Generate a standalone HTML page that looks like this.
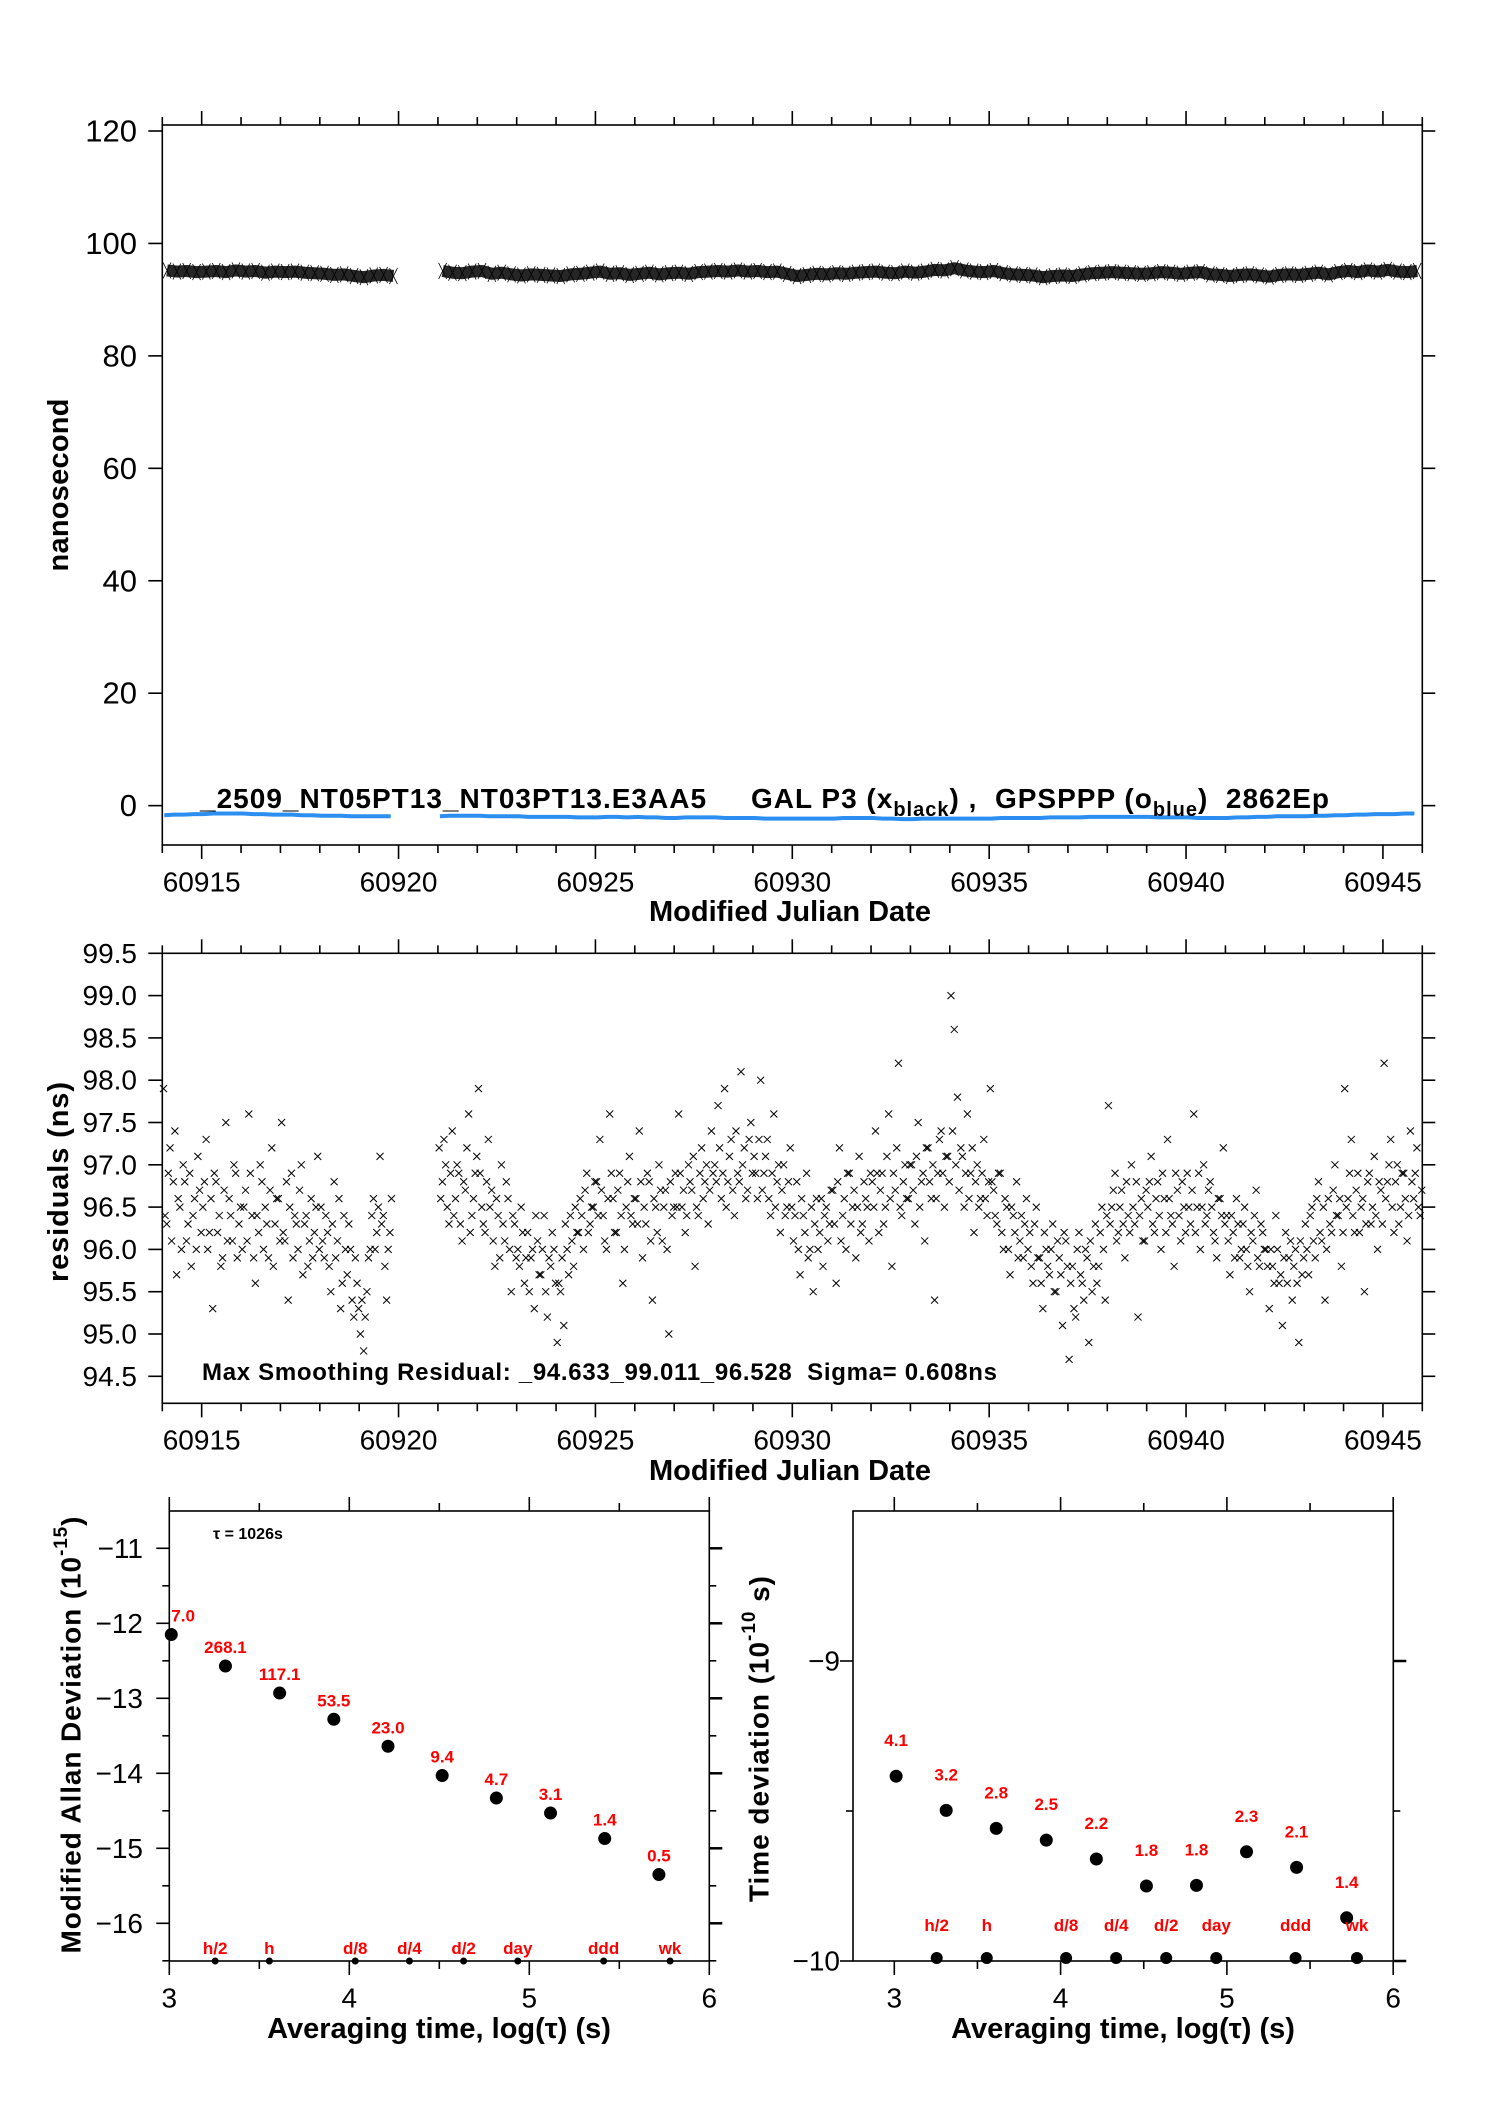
<!DOCTYPE html>
<html><head><meta charset="utf-8"><style>
html,body{margin:0;padding:0;background:#fff;}
svg{display:block;font-family:"Liberation Sans",Arial,sans-serif;}
.pre{white-space:pre;}
</style></head><body>
<svg id="chart" width="1488" height="2105" viewBox="0 0 1488 2105" xmlns="http://www.w3.org/2000/svg">
<rect x="0" y="0" width="1488" height="2105" fill="#fff"/>
<g id="g1"></g>
<g id="g2"></g>
<g id="g3"></g>
<g id="g4"></g>
<text x="59" y="485" transform="rotate(-90 59 485)" text-anchor="middle" dominant-baseline="central" font-size="29" font-weight="bold" textLength="173">nanosecond</text>
<text x="790" y="912" text-anchor="middle" dominant-baseline="central" font-size="29" font-weight="bold">Modified Julian Date</text>
<text x="59" y="1182" transform="rotate(-90 59 1182)" text-anchor="middle" dominant-baseline="central" font-size="29" font-weight="bold" textLength="200">residuals (ns)</text>
<text x="790" y="1471" text-anchor="middle" dominant-baseline="central" font-size="29" font-weight="bold">Modified Julian Date</text>
<text class="pre" x="202" y="1380" font-size="24" font-weight="bold" textLength="795">Max Smoothing Residual: _94.633_99.011_96.528  Sigma= 0.608ns</text>
<text class="pre" x="200" y="808" font-size="28" font-weight="bold" textLength="1129">_2509_NT05PT13_NT03PT13.E3AA5     GAL P3 (x<tspan font-size="20" dy="8">black</tspan><tspan dy="-8">) ,  GPSPPP (o</tspan><tspan font-size="20" dy="8">blue</tspan><tspan dy="-8">)  2862Ep</tspan></text>
<text x="71" y="1735" transform="rotate(-90 71 1735)" text-anchor="middle" dominant-baseline="central" font-size="28" font-weight="bold" textLength="437">Modified Allan Deviation (10<tspan font-size="19" dy="-10">-15</tspan><tspan dy="10">)</tspan></text>
<text x="759" y="1739" transform="rotate(-90 759 1739)" text-anchor="middle" dominant-baseline="central" font-size="28" font-weight="bold" textLength="326">Time deviation (10<tspan font-size="19" dy="-10">-10</tspan><tspan dy="10"> s)</tspan></text>
<text x="439" y="2029" text-anchor="middle" dominant-baseline="central" font-size="29" font-weight="bold">Averaging time, log(τ) (s)</text>
<text x="1123" y="2029" text-anchor="middle" dominant-baseline="central" font-size="29" font-weight="bold">Averaging time, log(τ) (s)</text>
<text x="213" y="1539" font-size="16" font-weight="bold">τ = 1026s</text>
</svg>
<script>
// ---- data ----
const dayStart = 60914;
const residPerDay = 12;
const resid = [
97.9,96.3,97.2,96.8,95.7,96.5,97.0,96.1,96.9,96.4,96.0,96.7,
96.5,97.3,96.2,95.3,96.8,96.4,95.9,97.5,96.6,96.1,96.9,96.3,
96.0,96.7,97.6,96.4,95.6,96.2,96.8,96.5,95.9,97.2,96.3,96.6,
97.5,96.1,95.4,96.9,96.4,96.0,97.0,96.3,95.8,96.6,96.2,97.1,
96.5,95.9,96.2,95.5,96.8,96.1,95.3,96.4,95.7,96.0,95.2,95.6,
95.0,94.8,95.5,96.0,96.6,96.2,97.1,96.4,95.4,96.2,null,null,
null,null,null,null,null,null,null,null,null,null,null,null,
97.2,96.8,97.0,96.3,97.4,96.6,96.9,96.1,96.7,97.6,96.4,96.9,
97.9,96.5,96.2,97.3,96.7,95.8,96.4,97.0,96.1,96.6,95.5,96.3,
96.0,96.5,95.6,96.2,95.9,95.3,96.1,95.7,96.4,95.2,95.8,96.0,
94.9,95.5,95.1,96.0,96.4,95.8,96.2,96.6,96.0,96.9,96.3,96.5,
96.8,97.3,96.4,96.0,97.6,96.6,96.2,96.9,95.6,96.5,97.1,96.3,
96.6,97.4,95.9,96.3,96.8,95.4,96.5,97.0,96.1,96.7,95.0,96.4,
96.9,97.6,96.5,96.2,97.0,96.7,95.8,96.4,97.2,96.8,96.3,97.4,
97.0,97.7,96.6,97.9,96.8,97.3,96.4,96.9,98.1,97.2,96.7,97.5,
97.1,96.6,98.0,96.9,97.3,96.4,97.6,96.8,96.2,97.0,96.5,97.2,
96.1,96.8,95.7,96.4,96.9,96.0,95.5,96.6,96.2,95.8,96.5,96.3,
96.7,95.6,97.2,96.4,96.0,96.9,96.5,95.9,97.1,96.3,96.6,96.1,
96.8,97.4,96.2,96.9,96.5,97.6,95.8,96.7,98.2,96.4,97.0,96.6,
97.0,96.3,97.5,96.8,96.1,97.2,96.6,95.4,96.9,97.4,96.5,97.1,
99.0,98.6,97.8,97.2,96.5,97.6,96.9,96.2,97.0,96.6,97.3,96.4,
97.9,96.7,96.3,96.9,96.0,96.5,95.7,96.4,96.8,96.1,95.9,96.6,
96.2,95.6,96.5,95.9,95.3,96.0,95.7,96.3,95.5,95.9,95.1,96.1,
94.7,95.8,95.2,96.2,95.6,96.0,94.9,95.5,96.3,95.8,96.5,95.4,
97.7,96.5,96.9,96.2,96.7,95.9,96.4,97.0,96.3,95.2,96.6,96.1,
96.5,97.1,96.2,96.8,96.0,96.6,97.3,96.4,95.8,96.7,96.1,96.5,
96.9,96.3,97.6,96.5,96.0,97.0,96.4,96.8,96.2,95.9,96.6,97.2,
96.4,95.7,96.2,96.6,95.9,96.3,96.0,95.5,96.1,96.7,95.8,96.2,
96.0,95.3,95.8,96.4,95.6,95.1,96.2,95.9,95.4,96.0,94.9,95.7,
96.3,95.7,96.5,95.9,96.8,96.1,95.4,96.6,96.2,97.0,96.4,95.8,
97.9,96.6,97.3,96.2,96.9,96.5,95.5,96.8,96.3,97.1,96.0,96.7,
98.2,96.8,97.3,96.2,97.0,96.5,96.9,96.1,97.4,96.6,97.2,96.4
];
const resid2 = [
96.4,96.9,96.1,97.4,96.6,96.0,96.8,96.3,95.8,96.6,97.1,96.2,
96.8,96.0,96.6,96.9,96.2,95.8,96.7,96.1,96.4,97.0,95.9,96.5,
96.5,96.1,96.9,95.9,96.4,97.0,96.0,96.3,96.7,95.8,96.6,96.1,
96.2,96.8,96.5,95.9,96.3,96.7,95.7,96.4,96.1,95.9,96.5,96.0,
96.1,96.4,95.8,96.3,95.9,96.6,95.6,96.0,96.3,95.4,95.9,95.3,
95.4,95.2,95.9,96.4,96.0,96.5,96.3,95.8,96.0,96.6,null,null,
null,null,null,null,null,null,null,null,null,null,null,null,
96.6,97.3,96.5,96.9,96.4,97.0,96.3,96.8,97.2,96.2,96.6,97.1,
96.9,96.3,96.8,96.5,96.1,96.6,95.9,96.3,96.8,96.0,96.4,95.9,
95.8,96.2,95.9,95.5,96.0,96.4,95.7,96.0,95.5,95.9,96.2,95.6,
95.6,95.9,96.3,95.7,96.1,96.5,96.2,96.4,96.7,96.2,96.5,96.8,
96.4,96.7,96.1,96.6,96.9,96.2,96.7,96.4,96.0,96.8,96.4,96.6,
96.3,96.8,96.5,96.9,96.1,96.6,96.2,96.7,96.5,96.0,96.8,96.5,
96.5,96.9,96.7,96.4,96.8,97.1,96.5,96.9,96.6,97.0,96.7,96.9,
96.8,97.2,96.9,96.5,97.1,96.7,97.4,96.8,97.0,96.6,97.3,96.9,
96.9,97.3,96.7,97.1,96.6,96.9,96.5,97.0,96.7,96.4,96.8,96.5,
96.4,96.0,96.6,96.2,95.9,96.5,96.3,96.0,96.6,96.4,96.1,96.7,
96.3,96.8,96.1,96.6,96.9,96.3,96.7,96.5,96.2,96.8,96.5,96.9,
96.5,96.9,96.7,96.3,97.1,96.6,96.9,97.2,96.5,96.8,96.6,97.0,
96.7,97.1,96.5,96.9,97.2,96.8,97.0,96.6,97.3,96.9,97.1,96.8,
97.4,97.0,96.7,97.1,96.9,96.6,97.2,96.8,96.5,96.9,96.6,96.8,
96.8,96.4,96.9,96.2,96.6,96.0,96.5,96.2,95.9,96.4,96.3,96.0,
95.8,96.3,95.9,95.6,96.2,95.8,96.0,95.5,96.1,95.7,96.2,95.8,
95.6,95.3,96.0,95.7,95.4,95.9,96.1,95.8,95.6,96.2,96.0,96.4,
96.3,96.7,96.1,96.5,96.3,96.8,96.2,96.5,96.8,96.4,96.1,96.7,
96.8,96.3,96.6,96.4,96.9,96.2,96.6,96.3,96.9,96.4,96.8,96.2,
96.5,96.7,96.2,96.9,96.5,96.3,96.7,96.5,96.1,96.6,96.4,96.3,
96.1,96.4,95.9,96.3,96.0,96.5,95.8,96.2,96.4,95.9,96.3,96.0,
95.8,96.0,95.6,96.0,95.7,95.9,95.6,96.1,95.8,95.6,96.1,95.9,
96.0,96.4,96.1,96.6,96.2,96.5,96.0,96.3,96.7,96.4,96.6,96.2,
96.5,96.9,96.4,96.7,96.2,96.6,96.3,96.9,96.5,96.4,96.8,96.3,
96.6,97.0,96.5,96.8,96.3,96.9,96.6,96.4,96.8,96.9,96.5,96.7
];
const blackPerDay = 4;
const blackVals = [
95.2,95.0,95.1,94.9, 95.0,95.1,94.9,95.2, 95.0,95.1,94.8,95.0, 94.9,95.0,94.8,94.7,
94.6,94.4,94.5,94.2, 94.0,94.3,94.4,94.2, null,null,null,null, 95.1,94.8,94.7,95.0,
95.1,94.6,94.8,94.5, 94.3,94.5,94.4,94.3, 94.2,94.5,94.6,94.8, 95.0,94.6,94.7,94.4,
94.6,94.8,94.5,94.7, 94.8,94.6,94.9,95.0, 95.1,95.0,95.2,95.0, 95.1,94.9,95.0,94.6,
94.2,94.4,94.6,94.5, 94.7,94.6,94.8,94.9, 95.0,94.8,94.7,95.0, 94.8,95.0,95.3,95.2,
95.6,95.2,95.0,94.9, 95.1,94.7,94.5,94.4, 94.3,94.0,94.2,94.3, 94.2,94.5,94.7,94.8,
94.9,94.8,94.7,94.6, 94.7,94.9,94.8,94.6, 94.8,94.9,94.5,94.4, 94.2,94.4,94.5,94.3,
94.1,94.4,94.5,94.4, 94.6,94.8,94.5,94.9, 95.1,94.9,95.2,95.0, 95.3,95.0,94.9,95.1
];
const bluePerDay = 4;
const blueVals = [
-1.7,-1.6,-1.6,-1.5, -1.5,-1.4,-1.4,-1.4, -1.4,-1.5,-1.5,-1.6, -1.6,-1.6,-1.7,-1.7,
-1.8,-1.8,-1.8,-1.9, -1.9,-1.9,-1.9,-1.9, null,null,null,null, -1.9,-1.8,-1.8,-1.8,
-1.8,-1.9,-1.9,-1.9, -1.9,-2.0,-2.0,-2.0, -2.0,-2.0,-2.1,-2.1, -2.1,-2.0,-2.0,-2.1,
-2.0,-2.1,-2.1,-2.2, -2.2,-2.1,-2.1,-2.1, -2.1,-2.2,-2.2,-2.2, -2.2,-2.3,-2.3,-2.3,
-2.3,-2.3,-2.3,-2.3, -2.3,-2.2,-2.2,-2.2, -2.2,-2.3,-2.3,-2.4, -2.4,-2.3,-2.3,-2.3,
-2.3,-2.3,-2.3,-2.3, -2.3,-2.2,-2.2,-2.2, -2.2,-2.2,-2.1,-2.1, -2.1,-2.1,-2.0,-2.0,
-2.0,-2.0,-2.0,-2.0, -2.0,-2.1,-2.1,-2.1, -2.1,-2.2,-2.2,-2.2, -2.2,-2.1,-2.1,-2.0,
-2.0,-1.9,-1.9,-1.9, -1.9,-1.8,-1.8,-1.7, -1.7,-1.6,-1.6,-1.5, -1.5,-1.5,-1.4,-1.4
];
const mjdTicks = [60915,60920,60925,60930,60935,60940,60945];
const nsTicks = [0,20,40,60,80,100,120];
const residTicks = [94.5,95.0,95.5,96.0,96.5,97.0,97.5,98.0,98.5,99.0,99.5];
const logTau = [3.011,3.312,3.613,3.914,4.215,4.516,4.817,5.118,5.419,5.720];
const adevVals = [-12.15,-12.57,-12.93,-13.28,-13.64,-14.03,-14.33,-14.53,-14.87,-15.35];
const adevLabels = ["7.0","268.1","117.1","53.5","23.0","9.4","4.7","3.1","1.4","0.5"];
const tdevVals = [-9.384,-9.498,-9.558,-9.597,-9.660,-9.750,-9.748,-9.636,-9.688,-9.856];
const tdevLabels = ["4.1","3.2","2.8","2.5","2.2","1.8","1.8","2.3","2.1","1.4"];
const markerLogs = [3.255,3.556,4.033,4.334,4.635,4.936,5.413,5.782];
const markerNames = ["h/2","h","d/8","d/4","d/2","day","ddd","wk"];
const adevTicks = [-11,-12,-13,-14,-15,-16];
const tdevTicks = [-9,-10];
const logTicks = [3,4,5,6];

// ---- scales ----
const X0=162.3, X1=1422.3;
const xm = d => X0 + (d-60914)*(X1-X0)/32;
const y1 = v => 131 + (120-v)*5.622;
const y2 = v => 953.3 + (99.5-v)*84.6;
const xl = l => 169.3 + (l-3)*180;
const yl = v => 1548.3 + (-11-v)*75;
const xr = l => 894.3 + (l-3)*166.3;
const yr = v => 1661 + (-9-v)*300;
const NS='http://www.w3.org/2000/svg';
function mk(parent, tag, attrs){const e=document.createElementNS(NS,tag);for(const k in attrs)e.setAttribute(k,attrs[k]);parent.appendChild(e);return e;}
function line(p,x1,yA,x2,yB,w){return mk(p,'line',{x1:x1,y1:yA,x2:x2,y2:yB,stroke:'#000','stroke-width':w||1.6});}

const g1=document.getElementById('g1'),g2=document.getElementById('g2'),g3=document.getElementById('g3'),g4=document.getElementById('g4');

function timeFrame(g, top, bot, yTicks, yfun, fmt, fs, labY){
  let r=mk(g,'rect',{x:X0,y:top,width:X1-X0,height:bot-top,fill:'none',stroke:'#000','stroke-width':1.6});
  
  
  for(let d=60914; d<=60946; d++){
    const major = d%5===0; const L = major?14:8; const x=xm(d);
    let t1=line(g,x,top,x,top-L);  
    let t2=line(g,x,bot,x,bot+L);  
  }
  mjdTicks.forEach(d=>{
    let t=mk(g,'text',{x:xm(d),y:labY,'text-anchor':'middle','dominant-baseline':'central','font-size':28});
    t.textContent=String(d);
    
    
  });
  yTicks.forEach(v=>{
    const y=yfun(v);
    let a=line(g,X0-14,y,X0,y);  
    let b=line(g,X1,y,X1+13,y);  
    let t=mk(g,'text',{x:137,y:y,'text-anchor':'end','dominant-baseline':'central','font-size':fs});
    t.textContent=fmt(v);
    
    
  });
}
timeFrame(g1,125,845,nsTicks,y1,v=>String(v),31,882);
timeFrame(g2,953.3,1403.3,residTicks,y2,v=>v.toFixed(1),28,1440);

function seriesPath(vals, perDay, yf, off){
  let d='', pen=false;
  vals.forEach((v,i)=>{ if(v===null){pen=false;return;} const x=xm(Math.min(dayStart+i/perDay+off,60946)), y=yf(v); d+=(pen?'L':'M')+x.toFixed(1)+' '+y.toFixed(1); pen=true;});
  return d;
}
let band=mk(g1,'path',{d:seriesPath(blackVals,blackPerDay,y1,0.12),fill:'none',stroke:'#262626','stroke-width':12,'stroke-linejoin':'round'});


blackVals.forEach((v,i)=>{
  if(v===null) return;
  const x=xm(dayStart+i/blackPerDay+0.12), y=y1(v);
  let m=mk(g1,'path',{d:`M${x-4} ${y-8}L${x+4} ${y+8}M${x-4} ${y+8}L${x+4} ${y-8}`,stroke:'#000','stroke-width':0.8});
  
  
});
let blue=mk(g1,'path',{d:seriesPath(blueVals,bluePerDay,y1,0.05),fill:'none',stroke:'#2b8ef0','stroke-width':4});



function drawResid(arr, off){
  arr.forEach((v,i)=>{
    if(v===null) return;
    const x=xm(dayStart+i/residPerDay+off), y=y2(v);
    let m=mk(g2,'path',{d:`M${x-3.5} ${y-3.5}L${x+3.5} ${y+3.5}M${x-3.5} ${y+3.5}L${x+3.5} ${y-3.5}`,stroke:'#000','stroke-width':1});
    
    
  });
}
drawResid(resid,0.03);
drawResid(resid2,0.07);

function stabFrame(g, left, right, xf, yTicksArr, yf, minorVals, labX){
  const top=1511, bot=1961;
  let r=mk(g,'rect',{x:left,y:top,width:right-left,height:bot-top,fill:'none',stroke:'#000','stroke-width':1.6});
  
  
  [3,3.5,4,4.5,5,5.5,6].forEach(l=>{
    const x=xf(l), L=(l%1===0)?14:8;
    let a=line(g,x,top,x,top-L);  
    let b=line(g,x,bot,x,bot+L);  
  });
  logTicks.forEach(l=>{
    let t=mk(g,'text',{x:xf(l),y:1998,'text-anchor':'middle','dominant-baseline':'central','font-size':28});
    t.textContent=String(l);
    
    
  });
  yTicksArr.forEach(v=>{
    const y=yf(v);
    let a=line(g,left-13,y,left,y);  
    let b=line(g,right,y,right+13,y,2.5);  
    let t=mk(g,'text',{x:labX,y:y,'text-anchor':'end','dominant-baseline':'central','font-size':28});
    t.textContent='\u2212'+String(-v);
    
    
  });
  minorVals.forEach(v=>{
    const y=yf(v);
    let a=line(g,left-7,y,left,y);  
    let b=line(g,right,y,right+7,y);  
  });
}
stabFrame(g3,169.3,709.3,xl,adevTicks,yl,[-11.5,-12.5,-13.5,-14.5,-15.5,-16.5],143);
stabFrame(g4,853,1393.3,xr,tdevTicks,yr,[-9.5],840);

logTau.forEach((l,i)=>{
  const x=xl(l), y=yl(adevVals[i]);
  let c=mk(g3,'circle',{cx:x,cy:y,r:6.5,fill:'#000'});
  
  
  let t=mk(g3,'text',{x:x,y:y-13,'text-anchor':i===0?'start':'middle','font-size':17,'font-weight':'bold',fill:'#ff0000'});
  t.textContent=adevLabels[i];
  
  
});
logTau.forEach((l,i)=>{
  const x=xr(l), y=yr(tdevVals[i]);
  let c=mk(g4,'circle',{cx:x,cy:y,r:6.5,fill:'#000'});
  
  
  let t=mk(g4,'text',{x:x,y:y-30,'text-anchor':'middle','font-size':17,'font-weight':'bold',fill:'#ff0000'});
  t.textContent=tdevLabels[i];
  
  
});
markerLogs.forEach((l,i)=>{
  let c=mk(g3,'circle',{cx:xl(l),cy:1961,r:3.5,fill:'#000'});
  
  
  let t=mk(g3,'text',{x:xl(l),y:1954,'text-anchor':'middle','font-size':17,'font-weight':'bold',fill:'#ff0000'});
  t.textContent=markerNames[i];
  
  
  let c2=mk(g4,'circle',{cx:xr(l),cy:1958,r:6,fill:'#000'});
  
  
  let t2=mk(g4,'text',{x:xr(l),y:1931,'text-anchor':'middle','font-size':17,'font-weight':'bold',fill:'#ff0000'});
  t2.textContent=markerNames[i];
  
  
});
</script>
</body></html>
